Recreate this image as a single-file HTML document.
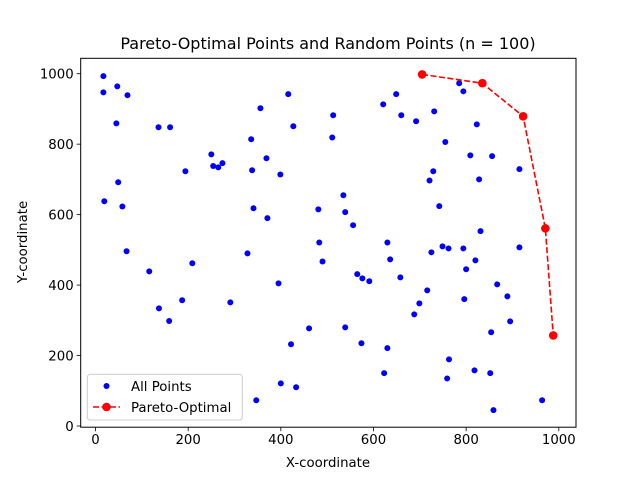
<!DOCTYPE html>
<html><head><meta charset="utf-8"><style>
html,body{margin:0;padding:0;background:#fff;}
svg{display:block;font-family:"DejaVu Sans","Liberation Sans",sans-serif;}
</style></head><body>
<svg id="chart" width="640" height="480">
<rect x="0" y="0" width="640" height="480" fill="#fff"/>
<text x="328" y="49" font-size="16" text-anchor="middle">Pareto-Optimal Points and Random Points (n = 100)</text>
<g id="plot"></g>
<text x="328" y="467" font-size="13.3" text-anchor="middle">X-coordinate</text>
<text x="0" y="0" font-size="13.3" text-anchor="middle" transform="translate(27,242) rotate(-90)">Y-coordinate</text>
</svg>
<script>
const allX = [17,17,47,69,45,136,161,336,356,416,427,250,369,254,265,274,194,338,399,49,19,58,341,371,481,483,
67,116,209,328,490,395,187,291,137,159,461,422,400,433,347,
785,794,649,621,513,660,731,692,823,511,755,809,856,915,729,721,828,535,539,742,556,831,630,749,915,
762,794,725,636,820,800,565,576,591,658,867,716,889,699,796,688,539,895,854,574,630,763,623,818,759,852,964,859,
705,835,923,971,988];
const allY = [993,947,964,939,859,848,848,814,902,942,851,771,760,738,734,746,723,726,714,692,638,623,618,590,615,521,
496,439,462,490,467,405,357,351,334,298,277,232,121,110,73,
973,950,942,913,882,882,893,865,856,819,806,768,766,729,723,697,700,655,607,624,570,553,521,510,507,
504,504,493,473,470,445,431,419,411,422,402,385,368,348,360,317,280,297,266,235,221,189,150,158,135,150,73,45,
998,973,879,561,257];
const paretoX = [705,835,923,971,988];
const paretoY = [998,973,879,561,257];
const xTicks = [0,200,400,600,800,1000];
const yTicks = [0,200,400,600,800,1000];

const L=80.7,R=576,T=58.3,B=427.2;
const xs=v=>95.5+v*0.4633;
const ys=v=>426-v*0.3523;
const NS="http://www.w3.org/2000/svg";
const g=document.getElementById('plot');
function mk(tag,attrs,parent){const e=document.createElementNS(NS,tag);for(const k in attrs)e.setAttribute(k,attrs[k]);(parent||g).appendChild(e);return e;}

const ptsG=mk('g',{});


for(let i=0;i<allX.length;i++){
  const c=mk('circle',{cx:xs(allX[i]),cy:ys(allY[i]),r:3,fill:'#0000ff'},ptsG);
  
  
}
const pG=mk('g',{});


const line=mk('polyline',{points:paretoX.map((x,i)=>xs(x)+','+ys(paretoY[i])).join(' '),fill:'none',stroke:'#ff0000','stroke-width':1.6,'stroke-dasharray':'6,2.5'},pG);


for(let i=0;i<paretoX.length;i++){
  const c=mk('circle',{cx:xs(paretoX[i]),cy:ys(paretoY[i]),r:4.3,fill:'#ff0000'},pG);
  
  
}
const frame=mk('rect',{x:L,y:T,width:R-L,height:B-T,fill:'none',stroke:'#000','stroke-width':1});


xTicks.forEach(v=>{
  const x=xs(v);
  mk('line',{x1:x,x2:x,y1:B,y2:B+4,stroke:'#000','stroke-width':0.8});
  const t=mk('text',{x:x,y:B+17,'font-size':13.3,'text-anchor':'middle'});
  t.textContent=v;
  
  
});
yTicks.forEach(v=>{
  const y=ys(v);
  mk('line',{x1:L-4,x2:L,y1:y,y2:y,stroke:'#000','stroke-width':0.8});
  const t=mk('text',{x:L-7,y:y+5,'font-size':13.3,'text-anchor':'end'});
  t.textContent=v;
  
  
});
const lg=mk('g',{});


mk('rect',{x:87.3,y:374.3,width:155,height:45.7,rx:3,fill:'#fff','fill-opacity':0.8,stroke:'#cccccc','stroke-width':1},lg);
mk('circle',{cx:106.5,cy:386,r:3,fill:'#0000ff'},lg);
const t1=mk('text',{x:131,y:391,'font-size':13.3},lg);t1.textContent='All Points';


mk('line',{x1:93,x2:120,y1:407,y2:407,stroke:'#ff0000','stroke-width':1.6,'stroke-dasharray':'6,2.5'},lg);
mk('circle',{cx:106.5,cy:407,r:4.3,fill:'#ff0000'},lg);
const t2=mk('text',{x:131,y:412,'font-size':13.3},lg);t2.textContent='Pareto-Optimal';


</script>
</body></html>
